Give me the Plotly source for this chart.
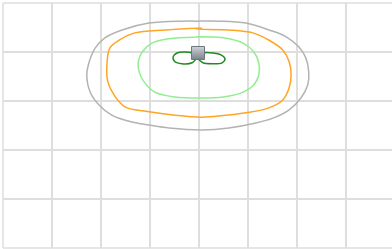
import plotly.graph_objects as go

# Contour lines (grid units; y measured downward from the top edge)
gray_x = [3.65, 2.98, 2.43, 2.08, 1.88, 1.76, 1.71, 1.78, 1.96, 2.22, 2.63, 2.98, 3.39, 4.06,
          4.61, 5.16, 5.51, 5.84, 6.08, 6.22, 6.24, 6.18, 6.04, 5.78, 5.43, 4.96, 4.41, 3.94, 3.65]
gray_y = [0.37, 0.41, 0.55, 0.71, 0.92, 1.20, 1.47, 1.82, 2.08, 2.29, 2.43, 2.49, 2.55, 2.59,
          2.55, 2.45, 2.35, 2.18, 1.94, 1.67, 1.41, 1.12, 0.90, 0.69, 0.55, 0.41, 0.37, 0.37, 0.37]

orange_x = [4.06, 3.31, 2.69, 2.37, 2.18, 2.12, 2.14, 2.27, 2.49, 2.98, 3.51, 4.06,
            4.35, 4.96, 5.43, 5.71, 5.84, 5.88, 5.84, 5.71, 5.43, 5.10, 4.61, 3.94, 4.06]
orange_y = [0.51, 0.55, 0.61, 0.76, 0.92, 1.27, 1.61, 1.88, 2.12, 2.22, 2.29, 2.33,
            2.31, 2.24, 2.14, 1.98, 1.73, 1.47, 1.20, 0.96, 0.76, 0.61, 0.55, 0.53, 0.51]

lgreen_x = [4.06, 3.39, 3.04, 2.84, 2.76, 2.78, 2.88, 3.10, 3.51, 4.06,
            4.49, 4.90, 5.12, 5.22, 5.22, 5.12, 4.90, 4.49, 3.94, 4.06]
lgreen_y = [0.69, 0.73, 0.82, 1.00, 1.20, 1.41, 1.61, 1.82, 1.92, 1.94,
            1.92, 1.82, 1.67, 1.47, 1.22, 1.00, 0.82, 0.71, 0.69, 0.69]

dgreen_x = [3.96, 3.86, 3.69, 3.55, 3.47, 3.51, 3.65, 3.86, 3.96,
            4.08, 4.29, 4.45, 4.53, 4.47, 4.27, 4.08, 3.96]
dgreen_y = [1.12, 1.02, 1.00, 1.02, 1.10, 1.20, 1.24, 1.22, 1.12,
            1.02, 1.02, 1.06, 1.14, 1.22, 1.24, 1.22, 1.12]

source_x = [3.98]
source_y = [1.02]

GRID = "#dedede"

fig = go.Figure()
for xs, ys, col in [(gray_x, gray_y, "#b3b3b3"),
                    (orange_x, orange_y, "#ffa524"),
                    (lgreen_x, lgreen_y, "#90ee90"),
                    (dgreen_x, dgreen_y, "#1f8a1f")]:
    fig.add_trace(go.Scatter(x=xs, y=ys, mode="lines",
                             line=dict(color=col, width=1.5, shape="spline", smoothing=1.0),
                             hoverinfo="skip", showlegend=False))

fig.add_trace(go.Scatter(x=source_x, y=source_y, mode="markers", showlegend=False,
                         marker=dict(symbol="square", size=13, color="#cfd3d8",
                                     gradient=dict(type="vertical", color="#7c838c"),
                                     line=dict(color="#6f757d", width=1))))

# plot-area border on left, top and bottom (no right edge in the reference)
for x0, y0, x1, y1 in [(0, 0, 0, 1), (0, 1, 1, 1), (0, 0, 1, 0)]:
    fig.add_shape(type="line", xref="paper", yref="paper", x0=x0, y0=y0, x1=x1, y1=y1,
                  line=dict(color=GRID, width=1.5), layer="below")

axis_common = dict(showgrid=True, gridcolor=GRID, gridwidth=1.5, dtick=1,
                   showticklabels=False, zeroline=False, ticks="", showline=False)
fig.update_layout(
    width=392, height=249,
    margin=dict(l=3, r=0, t=3, b=1),
    paper_bgcolor="white", plot_bgcolor="white",
    xaxis=dict(range=[0, 389 / 49], tick0=0, **axis_common),
    yaxis=dict(range=[5, 0], tick0=0, **axis_common),
)
fig.write_html("out.html", config={"displayModeBar": False},
               post_script="document.body.style.margin='0';document.body.style.overflow='hidden';")
